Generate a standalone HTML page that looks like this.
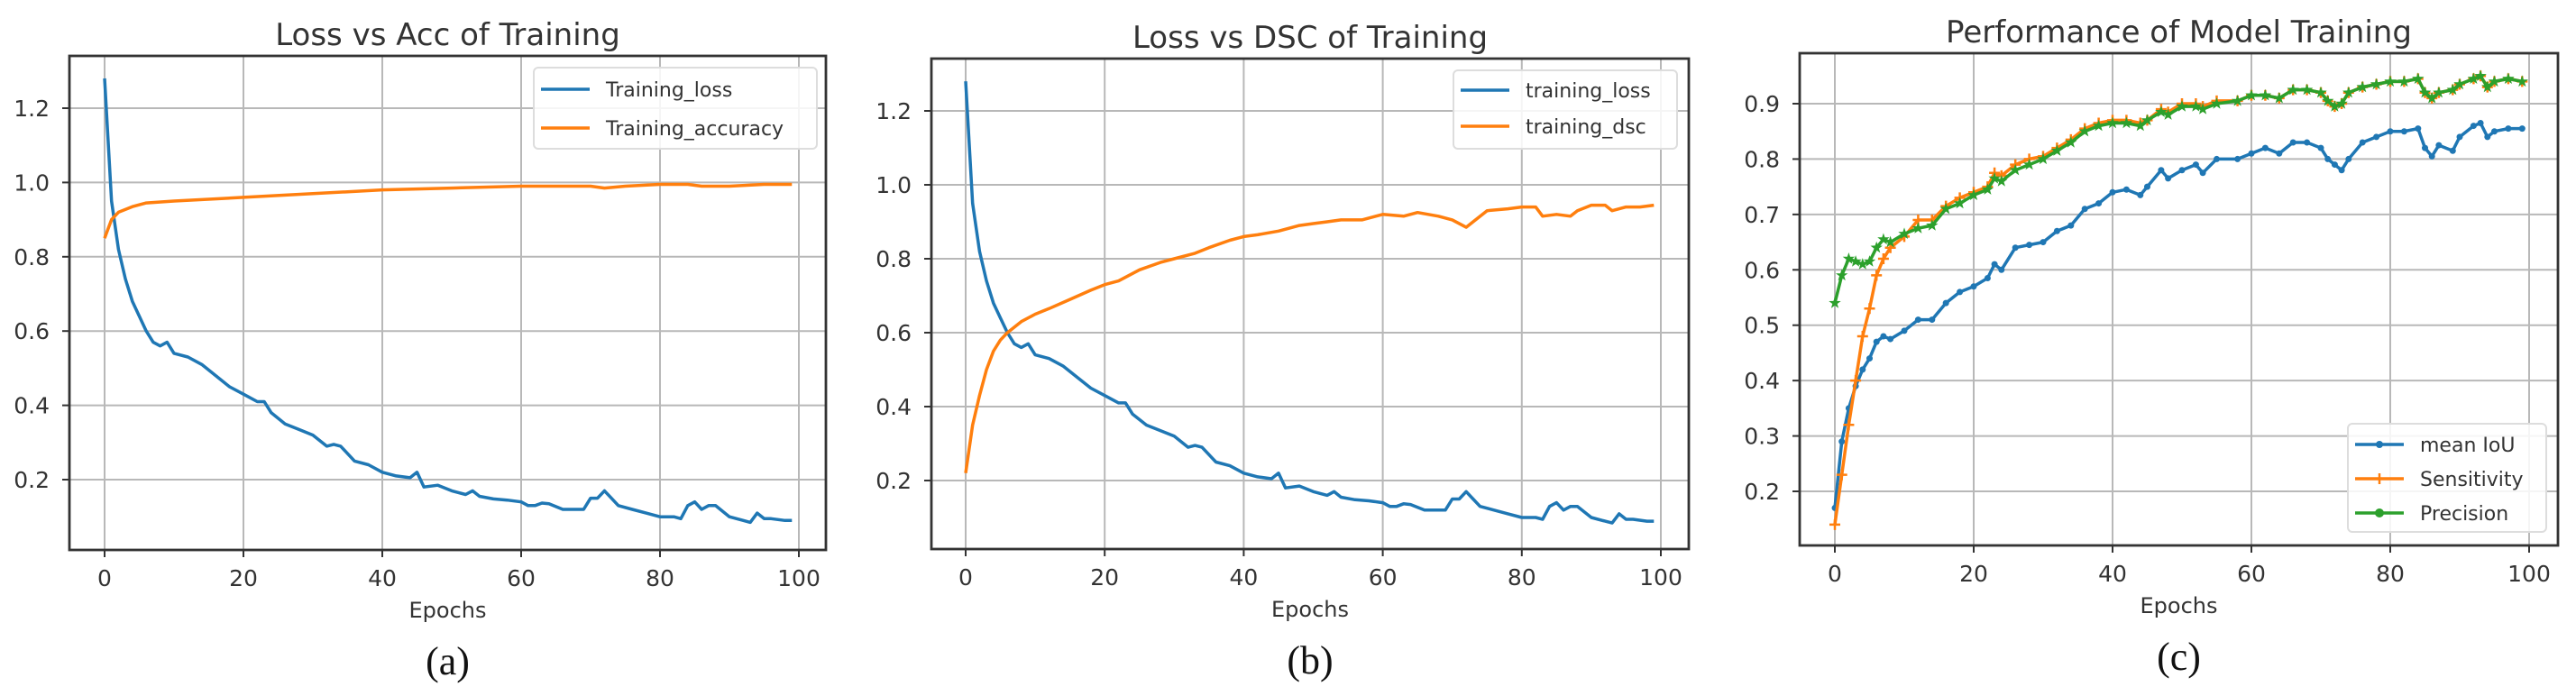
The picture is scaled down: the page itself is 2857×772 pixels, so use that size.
<!DOCTYPE html>
<html><head><meta charset="utf-8">
<style>
html,body{margin:0;padding:0;background:#fff;}
svg{display:block;}
text{font-family:"DejaVu Sans","Liberation Sans",sans-serif;fill:#333;}
.cap{font-family:"Liberation Serif","DejaVu Serif",serif;fill:#111;}
</style></head>
<body>
<svg id="fig" width="2857" height="772" viewBox="0 0 2857 772" xmlns="http://www.w3.org/2000/svg"></svg>
<script>
// ---- Data (panel a & b) ----
const lossEpochs = [0,1,2,3,4,5,6,7,8,9,10,12,14,16,18,20,22,23,24,26,28,30,32,33,34,36,38,40,42,44,45,46,48,50,52,53,54,56,58,60,61,62,63,64,66,68,69,70,71,72,73,74,76,78,80,82,83,84,85,86,87,88,90,92,93,94,95,96,98,99];
const lossValues = [1.28,0.95,0.82,0.74,0.68,0.64,0.6,0.57,0.56,0.57,0.54,0.53,0.51,0.48,0.45,0.43,0.41,0.41,0.38,0.35,0.335,0.32,0.29,0.295,0.29,0.25,0.24,0.22,0.21,0.205,0.22,0.18,0.185,0.17,0.16,0.17,0.155,0.148,0.145,0.14,0.13,0.13,0.137,0.135,0.12,0.12,0.12,0.15,0.15,0.17,0.15,0.13,0.12,0.11,0.1,0.1,0.095,0.13,0.14,0.12,0.13,0.13,0.1,0.09,0.085,0.11,0.095,0.095,0.09,0.09];
const accEpochs = [0,1,2,4,6,10,20,30,40,50,60,70,72,75,80,84,86,90,95,99];
const accValues = [0.85,0.9,0.92,0.935,0.945,0.95,0.96,0.97,0.98,0.985,0.99,0.99,0.985,0.99,0.995,0.995,0.99,0.99,0.995,0.995];
const dscEpochs = [0,1,2,3,4,5,6,8,10,12,15,18,20,22,25,28,30,33,35,38,40,42,45,48,50,52,54,57,60,63,65,68,70,72,73,75,78,80,82,83,85,87,88,90,92,93,95,97,99];
const dscValues = [0.22,0.35,0.43,0.5,0.55,0.58,0.6,0.63,0.65,0.665,0.69,0.715,0.73,0.74,0.77,0.79,0.8,0.815,0.83,0.85,0.86,0.865,0.875,0.89,0.895,0.9,0.905,0.905,0.92,0.915,0.925,0.915,0.905,0.885,0.9,0.93,0.935,0.94,0.94,0.915,0.92,0.915,0.93,0.945,0.945,0.93,0.94,0.94,0.945];
// ---- Data (panel c) ----
const cEpochs = [0,1,2,3,4,5,6,7,8,10,12,14,16,18,20,22,23,24,26,28,30,32,34,36,38,40,42,44,45,47,48,50,52,53,55,58,60,62,64,66,68,70,71,72,73,74,76,78,80,82,84,85,86,87,89,90,92,93,94,95,97,99];
const iouValues = [0.17,0.29,0.35,0.39,0.42,0.44,0.47,0.48,0.475,0.49,0.51,0.51,0.54,0.56,0.57,0.585,0.61,0.6,0.64,0.645,0.65,0.67,0.68,0.71,0.72,0.74,0.745,0.735,0.75,0.78,0.765,0.78,0.79,0.775,0.8,0.8,0.81,0.82,0.81,0.83,0.83,0.82,0.8,0.79,0.78,0.8,0.83,0.84,0.85,0.85,0.855,0.82,0.805,0.825,0.815,0.84,0.86,0.865,0.84,0.85,0.855,0.855];
const sensValues = [0.14,0.23,0.32,0.4,0.48,0.53,0.59,0.62,0.64,0.66,0.69,0.69,0.715,0.73,0.74,0.75,0.775,0.77,0.79,0.8,0.805,0.82,0.835,0.855,0.865,0.87,0.87,0.865,0.87,0.89,0.885,0.9,0.9,0.895,0.905,0.905,0.915,0.915,0.91,0.925,0.925,0.92,0.905,0.895,0.9,0.92,0.93,0.935,0.94,0.94,0.945,0.92,0.91,0.92,0.925,0.935,0.945,0.95,0.93,0.94,0.945,0.94];
const precValues = [0.54,0.59,0.62,0.615,0.61,0.615,0.64,0.655,0.65,0.665,0.675,0.68,0.71,0.72,0.735,0.745,0.765,0.76,0.78,0.79,0.8,0.815,0.83,0.85,0.86,0.865,0.865,0.86,0.87,0.885,0.88,0.895,0.895,0.89,0.9,0.905,0.915,0.915,0.91,0.925,0.925,0.92,0.905,0.895,0.9,0.92,0.93,0.935,0.94,0.94,0.945,0.92,0.91,0.92,0.925,0.935,0.945,0.95,0.93,0.94,0.945,0.94];
const xTicks = [0,20,40,60,80,100];
const yTicksAB = [0.2,0.4,0.6,0.8,1.0,1.2];
const yTicksC = [0.2,0.3,0.4,0.5,0.6,0.7,0.8,0.9];

const NS = "http://www.w3.org/2000/svg";
const svg = document.getElementById('fig');
function mk(tag, attrs, parent){const e=document.createElementNS(NS,tag);for(const k in attrs)e.setAttribute(k,attrs[k]);(parent||svg).appendChild(e);return e;}
const C = {blue:'#1f77b4',orange:'#ff7f0e',green:'#2ca02c'};

function panel(cfg){
  const g = mk('g',{});
  
  
  const X = e => cfg.x0 + (e - cfg.xmin)/(cfg.xmax-cfg.xmin)*(cfg.x1-cfg.x0);
  const Y = v => cfg.yA + (cfg.vA - v)/(cfg.vA-cfg.vB)*(cfg.yB-cfg.yA);
  xTicks.forEach(t=>{
    const l = mk('line',{x1:X(t),x2:X(t),y1:cfg.top,y2:cfg.bottom,stroke:'#b8b8b8','stroke-width':2},g);
    
    
    const tk = mk('line',{x1:X(t),x2:X(t),y1:cfg.bottom,y2:cfg.bottom+8,stroke:'#333','stroke-width':2},g);
    
    
    const tx = mk('text',{x:X(t),y:cfg.bottom+40,'text-anchor':'middle','font-size':25},g);
    tx.textContent = t;
    
    
  });
  cfg.yTicks.forEach(t=>{
    const l = mk('line',{x1:cfg.left,x2:cfg.right,y1:Y(t),y2:Y(t),stroke:'#b8b8b8','stroke-width':2},g);
    
    
    const tk = mk('line',{x1:cfg.left-8,x2:cfg.left,y1:Y(t),y2:Y(t),stroke:'#333','stroke-width':2},g);
    
    
    const tx = mk('text',{x:cfg.left-22,y:Y(t)+9,'text-anchor':'end','font-size':25},g);
    tx.textContent = t.toFixed(1);
    
    
  });
  cfg.series.forEach(s=>{
    const d = s.x.map((e,i)=>(i?'L':'M')+X(e).toFixed(1)+' '+Y(s.y[i]).toFixed(1)).join(' ');
    const p = mk('path',{d:d,fill:'none',stroke:s.color,'stroke-width':3.5,'stroke-linejoin':'round'},g);
    
    
    if(s.marker){
      s.x.forEach((e,i)=>{
        const cx=X(e), cy=Y(s.y[i]);
        let m;
        if(s.marker==='dot') m = mk('circle',{cx:cx,cy:cy,r:3.5,fill:s.color},g);
        else if(s.marker==='plus') m = mk('path',{d:`M${cx-6} ${cy}H${cx+6}M${cx} ${cy-6}V${cy+6}`,stroke:s.color,'stroke-width':2.5},g);
        else { const pts=[];for(let k=0;k<10;k++){const r=k%2?2.8:7,a=-Math.PI/2+k*Math.PI/5;pts.push((cx+r*Math.cos(a)).toFixed(1)+','+(cy+r*Math.sin(a)).toFixed(1));} m = mk('polygon',{points:pts.join(' '),fill:s.color},g); }
        
        
      });
    }
  });
  const fr = mk('rect',{x:cfg.left,y:cfg.top,width:cfg.right-cfg.left,height:cfg.bottom-cfg.top,fill:'none',stroke:'#333','stroke-width':2.8},g);
  
  
  const ti = mk('text',{x:(cfg.left+cfg.right)/2,y:cfg.top-12,'text-anchor':'middle','font-size':34},g);
  ti.textContent = cfg.title;
  
  
  const xl = mk('text',{x:(cfg.left+cfg.right)/2,y:cfg.bottom+75,'text-anchor':'middle','font-size':24},g);
  xl.textContent = 'Epochs';
  
  
  const cp = mk('text',{x:(cfg.left+cfg.right)/2,y:cfg.bottom+138,'text-anchor':'middle','font-size':44,'class':'cap'},g);
  cp.textContent = cfg.caption;
  
  
  const L = cfg.legend;
  const lg = mk('g',{},g);
  
  
  mk('rect',{x:L.x,y:L.y,width:L.w,height:L.h,rx:5,fill:'#fff','fill-opacity':0.85,stroke:'#ddd','stroke-width':2},lg);
  cfg.series.forEach((s,i)=>{
    const ry = L.y + L.first + i*L.step;
    const e = mk('g',{},lg);
    
    
    mk('line',{x1:L.x+8,x2:L.x+62,y1:ry,y2:ry,stroke:s.color,'stroke-width':3.5},e);
    if(s.marker==='dot') mk('circle',{cx:L.x+35,cy:ry,r:4,fill:s.color},e);
    if(s.marker==='plus') mk('path',{d:`M${L.x+29} ${ry}H${L.x+41}M${L.x+35} ${ry-6}V${ry+6}`,stroke:s.color,'stroke-width':2.5},e);
    if(s.marker==='star') mk('circle',{cx:L.x+35,cy:ry,r:5,fill:s.color},e);
    const t = mk('text',{x:L.x+80,y:ry+8,'font-size':22},e);
    t.textContent = s.label;
  });
}

panel({name:'chart-a-loss-vs-acc',title:'Loss vs Acc of Training',caption:'(a)',
  left:77,right:916,top:62,bottom:610,x0:116,x1:886,xmin:0,xmax:100,yA:120,vA:1.2,yB:532,vB:0.2,yTicks:yTicksAB,
  legend:{x:592,y:75,w:314,h:90,first:24,step:43},
  series:[{name:'training-loss-a',label:'Training_loss',x:lossEpochs,y:lossValues,color:C.blue},
          {name:'training-accuracy',label:'Training_accuracy',x:accEpochs,y:accValues,color:C.orange}]});
panel({name:'chart-b-loss-vs-dsc',title:'Loss vs DSC of Training',caption:'(b)',
  left:1033,right:1873,top:65,bottom:609,x0:1071,x1:1842,xmin:0,xmax:100,yA:123,vA:1.2,yB:533,vB:0.2,yTicks:yTicksAB,
  legend:{x:1612,y:78,w:248,h:87,first:22,step:40},
  series:[{name:'training-loss-b',label:'training_loss',x:lossEpochs,y:lossValues,color:C.blue},
          {name:'training-dsc',label:'training_dsc',x:dscEpochs,y:dscValues,color:C.orange}]});
panel({name:'chart-c-performance',title:'Performance of Model Training',caption:'(c)',
  left:1996,right:2837,top:59,bottom:605,x0:2035,x1:2805,xmin:0,xmax:100,yA:115,vA:0.9,yB:545,vB:0.2,yTicks:yTicksC,
  legend:{x:2604,y:470,w:220,h:120,first:23,step:38},
  series:[{name:'mean-iou',label:'mean IoU',x:cEpochs,y:iouValues,color:C.blue,marker:'dot'},
          {name:'sensitivity',label:'Sensitivity',x:cEpochs,y:sensValues,color:C.orange,marker:'plus'},
          {name:'precision',label:'Precision',x:cEpochs,y:precValues,color:C.green,marker:'star'}]});
</script>
</body></html>
